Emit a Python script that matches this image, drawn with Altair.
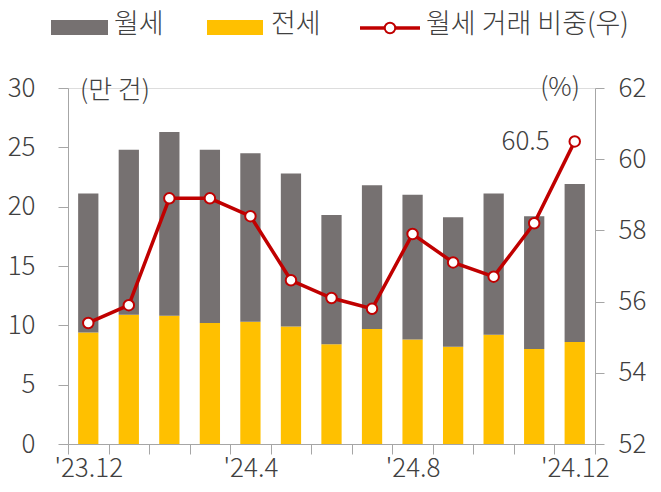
import json
import altair as alt
import pandas as pd

months = ["'23.12", "'24.1", "'24.2", "'24.3", "'24.4", "'24.5", "'24.6",
          "'24.7", "'24.8", "'24.9", "'24.10", "'24.11", "'24.12"]
wolse = [11.7, 13.9, 15.5, 14.6, 14.2, 12.9, 10.9, 12.1, 12.2, 10.9, 11.9, 11.2, 13.3]
jeonse = [9.4, 10.9, 10.8, 10.2, 10.3, 9.9, 8.4, 9.7, 8.8, 8.2, 9.2, 8.0, 8.6]
share = [55.4, 55.9, 58.9, 58.9, 58.4, 56.6, 56.1, 55.8, 57.9, 57.1, 56.7, 58.2, 60.5]
shown_labels = ["'23.12", "'24.4", "'24.8", "'24.12"]
left_ticks = [0, 5, 10, 15, 20, 25, 30]
right_ticks = [52, 54, 56, 58, 60, 62]
kinds = ["월세", "전세"]
line_name = "월세 거래 비중(우)"

GRAY = "#767171"
YELLOW = "#FFC000"
RED = "#C00000"
TXT = "#404040"
AX = "#A6A6A6"
FONT = "Noto Sans CJK KR"
FS = 26

bar_df = pd.DataFrame({
    "month": months * 2,
    "kind": ["전세"] * len(months) + ["월세"] * len(months),
    "value": jeonse + wolse,
    "order": [0] * len(months) + [1] * len(months),
})
line_df = pd.DataFrame({"month": months, "share": share})
one = pd.DataFrame({"d": [0]})

label_expr = f"indexof({json.dumps(shown_labels)}, datum.label) >= 0 ? datum.label : ''"

x = alt.X("month:N", sort=months,
          scale=alt.Scale(paddingInner=0, paddingOuter=0),
          axis=alt.Axis(title=None, labelAngle=0, tickBand="extent", labelExpr=label_expr,
                        domainColor=AX, tickColor=AX, tickSize=10, labelFontSize=FS,
                        labelColor=TXT, labelPadding=1, labelFont=FONT, labelFontWeight=300))

bars = alt.Chart(bar_df).mark_bar(width=alt.RelativeBandSize(0.5)).encode(
    x=x,
    y=alt.Y("value:Q", stack="zero", scale=alt.Scale(domain=[0, 30], nice=False),
            axis=alt.Axis(title=None, values=left_ticks, grid=False, domainColor=AX,
                          tickColor=AX, tickSize=10, labelFontSize=FS, labelColor=TXT,
                          labelPadding=23, labelFont=FONT, labelFontWeight=300)),
    color=alt.Color("kind:N", scale=alt.Scale(domain=kinds, range=[GRAY, YELLOW]), legend=None),
    order=alt.Order("order:Q"),
)

yr = alt.Y("share:Q", scale=alt.Scale(domain=[52, 62], nice=False),
           axis=alt.Axis(title=None, orient="right", values=right_ticks, grid=False,
                         domainColor=AX, tickColor=AX, tickSize=9, labelFontSize=FS,
                         labelColor=TXT, labelPadding=14, labelFont=FONT, labelFontWeight=300))

line = alt.Chart(line_df).mark_line(color=RED, strokeWidth=3.5).encode(x=x, y=yr)
pts = alt.Chart(line_df).mark_point(filled=True, fill="white", stroke=RED, strokeWidth=2,
                                    size=110, opacity=1).encode(x=x, y=yr)
lab = alt.Chart(line_df).mark_text(align="right", baseline="middle", dx=-25, dy=1,
                                   fontSize=FS, color=TXT, font=FONT, fontWeight=300).encode(
    x=x, y=yr, text=alt.Text("share:Q", format=".1f")
).transform_filter(alt.FieldEqualPredicate(field="month", equal=months[-1]))

line_group = alt.layer(line, pts, lab)


def txt(s, xv, yv, align="left", size=FS):
    return alt.Chart(one).mark_text(align=align, baseline="middle", fontSize=size,
                                    color=TXT, font=FONT, fontWeight=300).encode(
        x=alt.value(xv), y=alt.value(yv), text=alt.value(s))


decor = [
    txt("(만 건)", 12, 3),
    txt("(%)", 492, 0, align="center"),
    alt.Chart(one).mark_rect(color=GRAY).encode(x=alt.value(-17), x2=alt.value(40),
                                                 y=alt.value(-68), y2=alt.value(-53)),
    txt(kinds[0], 46, -63, size=27),
    alt.Chart(one).mark_rect(color=YELLOW).encode(x=alt.value(139), x2=alt.value(195),
                                                   y=alt.value(-68), y2=alt.value(-53)),
    txt(kinds[1], 203, -63, size=27),
    alt.Chart(one).mark_rule(color=RED, strokeWidth=3.5).encode(x=alt.value(292), x2=alt.value(352),
                                                                y=alt.value(-60)),
    alt.Chart(one).mark_point(filled=True, fill="white", stroke=RED, strokeWidth=2, size=110,
                              opacity=1).encode(x=alt.value(322), y=alt.value(-60)),
    txt(line_name, 358, -63, size=27),
]

chart = alt.layer(bars, line_group, *decor).resolve_scale(y="independent").properties(
    width=527, height=356,
    padding={"left": 60, "top": 80, "right": 58, "bottom": 40},
    autosize="none",
).configure_view(stroke=None).configure(font=FONT)

chart.save("out.html", embed_options={"renderer": "svg", "actions": False})
